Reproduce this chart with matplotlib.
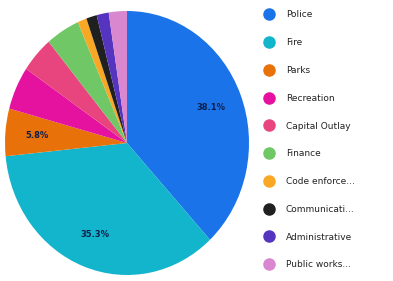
import matplotlib
matplotlib.use("Agg")
import matplotlib.pyplot as plt
from matplotlib.lines import Line2D

labels = ["Police", "Fire", "Parks", "Recreation", "Capital Outlay", "Finance",
          "Code enforce...", "Communicati...", "Administrative", "Public works..."]
values = [38.1, 35.3, 5.8, 5.3, 4.4, 4.5, 1.2, 1.4, 1.6, 2.4]
colors = ["#1a73e8", "#12b5cb", "#e8710a", "#e5129f", "#e8457f", "#6fc766",
          "#f9a825", "#202020", "#5535c0", "#d987cf"]


def show_pct(p):
    return f"{p:.1f}%" if p >= 5.5 else ""


fig = plt.figure(figsize=(3.93, 2.81), dpi=100)
ax = fig.add_axes([5 / 393, (281 - 143 - 132) / 281, 244 / 393, 264 / 281])
wedges, texts, autotexts = ax.pie(values, colors=colors, startangle=90, counterclock=False,
                                  autopct=show_pct, pctdistance=0.74,
                                  textprops=dict(fontsize=6, color="#0d1f4d", fontweight="bold"))
ax.set_aspect("auto")
ax.set_xlim(-1, 1)
ax.set_ylim(-1, 1)

handles = [Line2D([], [], marker="o", linestyle="none", markersize=8,
                  markerfacecolor=c, markeredgecolor=c) for c in colors]
leg = fig.legend(handles, labels, loc="upper left", bbox_to_anchor=(258 / 393, 1 - 5 / 281),
                 frameon=False, fontsize=6.5, labelspacing=2.08, handletextpad=1.3,
                 handlelength=1.2, borderaxespad=0.2)
for t in leg.get_texts():
    t.set_color("#222222")

fig.savefig("out.png", dpi=100)
